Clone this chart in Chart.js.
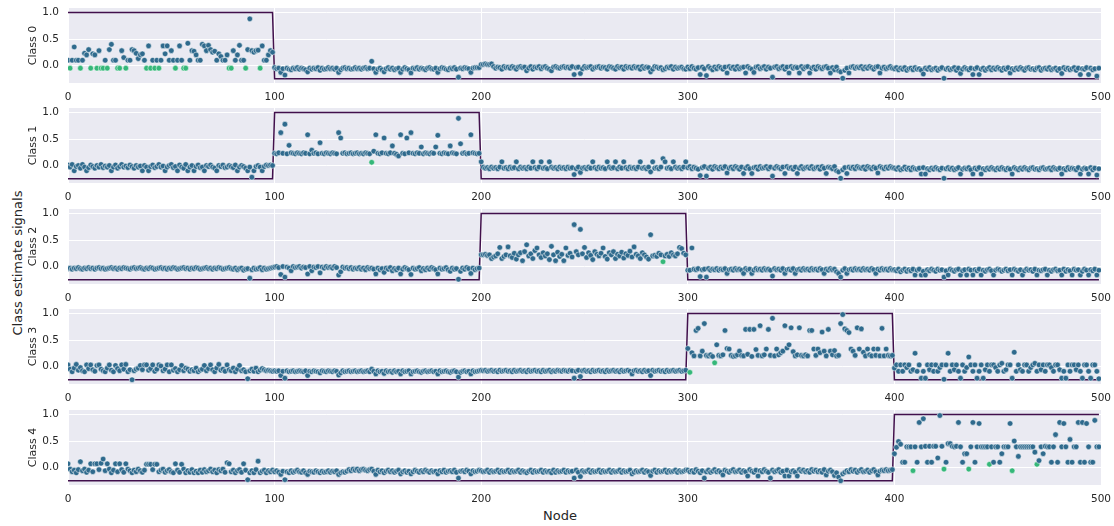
<!DOCTYPE html>
<html>
<head>
<meta charset="utf-8">
<script src="https://cdn.jsdelivr.net/npm/chart.js@4.4.1/dist/chart.umd.min.js"></script>
<style>
  body { margin: 0; background: #fff; width: 1114px; height: 526px; position: relative; overflow: hidden; font-family: "DejaVu Sans", sans-serif; }
  canvas.panel { position: absolute; left: 0; }
  .fig-label { position: absolute; color: #262626; font-size: 13px; white-space: nowrap; transform: translate(-50%, -50%); }
  #ylab { left: 17px; top: 263px; transform: translate(-50%, -50%) rotate(-90deg); }
  #xlab { left: 560px; top: 515px; }
</style>
</head>
<body>
<div class="fig-label" id="ylab">Class estimate signals</div>
<div class="fig-label" id="xlab">Node</div>
<script>
// class ranges: nodes [classBounds[k], classBounds[k+1]) belong to class k
const classBounds = [0, 100, 200, 300, 400, 500];
const classNames = ['Class 0', 'Class 1', 'Class 2', 'Class 3', 'Class 4'];
const truthHigh = 1.0;
const truthLow = -0.25;
const xTicks = [0, 100, 200, 300, 400, 500];
const yTicks = [0, 0.5, 1.0];

// estimated signal per node, one array per class
const class0 = [
  .1,-.05,.1,.35,.1,.1,-.05,.1,.23,.2,.3,-.05,.22,.2,-.05,.28,-.05,-.05,.1,-.05,
  .3,.4,.1,.1,-.05,-.05,.28,.15,-.05,.1,.1,.3,.28,.23,.13,.2,.22,.1,-.05,.37,
  -.05,.1,-.05,.1,-.05,.1,.37,.22,.37,.1,.28,.1,-.05,.1,.37,.1,-.05,-.05,.42,.1,
  .28,.27,.2,.1,.1,.4,.37,.28,.38,.3,.25,.27,.1,.22,.17,.1,.1,.2,-.05,-.05,
  .28,.1,.2,.38,.1,.1,-.05,.3,.88,.28,.25,.28,.29,-.05,.37,.1,.1,.2,.28,.25,
  -.04,-.06,-.05,-.13,-.06,-.18,-.05,-.07,-.08,-.05,-.06,-.04,-.07,-.05,-.06,-.08,-.12,-.05,-.07,-.05,
  -.06,-.04,-.09,-.05,-.07,-.06,-.04,-.06,-.05,-.07,-.05,-.13,-.08,-.05,-.04,-.06,-.05,-.07,-.06,-.04,
  -.06,-.05,-.07,-.05,-.04,-.06,-.05,.08,-.06,-.13,-.07,-.05,-.08,-.12,-.06,-.04,-.07,-.05,-.08,-.06,
  -.05,-.13,-.07,-.04,-.06,-.08,-.14,-.05,-.06,-.04,-.07,-.05,-.06,-.08,-.05,-.04,-.06,-.07,-.05,-.13,
  -.06,-.04,-.05,-.07,-.08,-.05,-.06,-.04,-.07,-.22,-.05,-.06,-.04,-.05,-.06,-.13,-.05,-.04,-.04,-.04,
  .02,.02,.03,.02,.02,.03,-.02,-.05,-.03,-.04,-.07,-.02,-.04,-.03,-.05,-.02,-.04,-.07,-.03,-.02,
  -.04,-.03,-.1,-.05,-.02,-.07,-.03,-.04,-.02,-.06,-.03,-.02,-.05,-.07,-.1,-.03,-.02,-.04,-.05,-.03,
  -.02,-.04,-.03,-.05,-.02,-.17,-.04,-.03,-.15,-.06,-.02,-.04,-.03,-.02,-.07,-.04,-.03,-.02,-.05,-.03,
  -.04,-.07,-.02,-.03,-.05,-.07,-.02,-.04,-.03,-.07,-.02,-.04,-.03,-.05,-.02,-.04,-.03,-.07,-.02,-.05,
  -.03,-.04,-.12,-.07,-.02,-.03,-.05,-.04,-.08,-.06,-.03,-.04,-.02,-.07,-.03,-.05,-.04,-.03,-.06,-.07,
  -.03,-.06,-.02,-.05,-.07,-.04,-.17,-.03,-.06,-.19,-.02,-.05,-.08,-.03,-.06,-.02,-.04,-.07,-.03,-.14,
  -.02,-.05,-.03,-.07,-.02,-.06,-.04,-.03,-.14,-.02,-.05,-.07,-.13,-.03,-.02,-.06,-.04,-.02,-.07,-.03,
  -.05,-.22,-.03,-.02,-.06,-.04,-.02,-.07,-.03,-.14,-.02,-.05,-.03,-.04,-.14,-.02,-.06,-.03,-.02,-.14,
  -.05,-.03,-.07,-.02,-.04,-.06,-.03,-.02,-.05,-.14,-.04,-.08,-.03,-.1,-.12,-.24,-.09,-.05,-.14,-.03,
  -.02,-.05,-.03,-.04,-.02,-.06,-.03,-.05,-.02,-.04,-.07,-.03,-.02,-.14,-.05,-.03,-.06,-.04,-.02,-.05,
  -.06,-.04,-.08,-.05,-.07,-.04,-.09,-.06,-.05,-.08,-.04,-.07,-.06,-.09,-.16,-.05,-.07,-.04,-.08,-.06,
  -.05,-.09,-.06,-.04,-.24,-.07,-.05,-.08,-.06,-.04,-.09,-.05,-.15,-.07,-.04,-.06,-.08,-.05,-.17,-.06,
  -.04,-.17,-.07,-.05,-.09,-.06,-.04,-.08,-.05,-.07,-.04,-.06,-.09,-.05,-.07,-.04,-.14,-.06,-.08,-.05,
  -.07,-.04,-.06,-.09,-.05,-.04,-.07,-.06,-.08,-.05,-.04,-.09,-.06,-.05,-.07,-.04,-.08,-.06,-.05,-.09,
  -.06,-.15,-.04,-.07,-.05,-.08,-.06,-.04,-.09,-.05,-.17,-.06,-.07,-.04,-.17,-.05,-.08,-.06,-.2,-.05
];

const class1 = [
  .01,-.03,.02,-.1,-.02,.0,-.05,.02,-.03,-.1,-.04,.01,-.02,-.05,.0,-.03,.02,-.04,-.01,-.03,
  .0,-.1,-.03,.01,-.05,-.02,.02,-.03,-.01,-.04,.01,-.02,-.05,.0,-.03,-.01,-.1,.0,-.03,-.1,
  -.02,.01,-.04,-.02,.02,-.03,-.01,-.1,-.03,.0,.02,-.04,-.02,-.1,.01,-.03,-.05,.02,-.1,-.03,
  .0,-.1,-.02,.01,-.04,-.03,-.1,.0,-.02,.01,-.03,-.05,-.1,.0,-.02,.01,-.04,-.03,.0,-.02,
  -.04,.01,-.1,-.03,.0,-.02,-.05,-.1,-.03,-.22,-.1,-.02,.0,-.03,-.1,-.02,.01,.0,.01,.0,
  .23,.22,.24,.62,.23,.78,.22,.38,.24,.23,.22,.24,.23,.22,.24,.23,.58,.22,.29,.23,
  .24,.22,.43,.23,.22,.24,.23,.22,.24,.23,.22,.62,.52,.23,.24,.22,.23,.24,.22,.23,
  .24,.22,.23,.22,.24,.23,.22,.06,.27,.58,.23,.22,.24,.52,.23,.22,.24,.37,.23,.21,
  .18,.58,.23,.22,.52,.24,.62,.23,.22,.24,.23,.35,.22,.24,.23,.22,.24,.23,.35,.57,
  .23,.22,.24,.23,.22,.37,.24,.23,.22,.89,.41,.23,.24,.22,.23,.58,.24,.23,.22,.23,
  .07,-.03,-.05,-.04,-.06,-.03,-.05,-.04,-.06,-.03,.07,-.05,-.04,-.06,-.03,-.05,-.04,.07,-.06,-.03,
  -.05,-.04,-.06,-.03,-.05,.07,-.04,-.06,-.03,.07,-.05,-.04,-.06,.07,-.03,-.05,-.04,-.06,-.03,-.05,
  -.04,-.06,-.03,-.05,-.04,-.17,-.06,-.03,-.13,-.05,-.04,-.06,-.03,-.05,.07,-.04,-.06,-.03,-.05,-.04,
  -.06,.07,-.03,-.05,-.04,.07,-.06,-.03,-.05,.07,-.04,-.06,-.03,-.05,-.04,-.06,-.03,.07,-.05,-.04,
  -.06,-.03,-.12,.07,-.05,-.04,-.06,-.03,.13,.07,-.05,-.04,-.06,.07,-.03,-.05,-.04,-.06,-.03,.07,
  -.04,-.02,-.06,-.03,-.05,-.07,-.19,-.04,-.02,-.2,-.05,-.03,-.07,-.02,-.04,-.06,-.03,-.05,-.02,-.14,
  -.05,-.03,-.06,-.02,-.04,-.07,-.03,-.15,-.05,-.02,-.06,-.15,-.04,-.03,-.07,-.02,-.05,-.04,-.02,-.06,
  -.03,-.2,-.05,-.02,-.04,-.06,-.03,-.15,-.02,-.05,-.04,-.07,-.03,-.15,-.05,-.02,-.06,-.04,-.03,-.05,
  -.02,-.06,-.04,-.03,-.07,-.02,-.05,-.15,-.03,-.04,-.06,-.02,-.1,-.12,-.24,-.08,-.04,-.15,-.03,-.05,
  -.03,-.06,-.02,-.04,-.05,-.03,-.07,-.02,-.04,-.06,-.03,-.05,-.14,-.02,-.04,-.06,-.03,-.05,-.02,-.04,
  -.05,-.07,-.04,-.08,-.06,-.03,-.07,-.05,-.08,-.04,-.06,-.07,-.05,-.16,-.04,-.16,-.06,-.08,-.05,-.07,
  -.04,-.06,-.08,-.05,-.24,-.06,-.04,-.07,-.05,-.08,-.06,-.04,-.16,-.07,-.05,-.06,-.04,-.08,-.16,-.05,
  -.07,-.04,-.16,-.06,-.08,-.05,-.07,-.04,-.06,-.08,-.05,-.07,-.04,-.06,-.08,-.05,-.07,-.16,-.04,-.06,
  -.08,-.05,-.07,-.04,-.06,-.08,-.05,-.04,-.07,-.06,-.08,-.05,-.04,-.07,-.06,-.05,-.08,-.04,-.06,-.07,
  -.05,-.16,-.06,-.08,-.04,-.07,-.05,-.06,-.08,-.04,-.16,-.07,-.05,-.06,-.16,-.04,-.08,-.05,-.18,-.06
];

const class2 = [
  -.04,-.03,-.05,-.03,-.04,-.02,-.04,-.05,-.03,-.04,-.02,-.04,-.03,-.05,-.03,-.02,-.04,-.03,-.05,-.04,
  -.03,-.02,-.04,-.03,-.05,-.03,-.04,-.02,-.03,-.04,-.05,-.03,-.02,-.04,-.03,-.02,-.04,-.05,-.03,-.04,
  -.02,-.03,-.05,-.04,-.03,-.02,-.04,-.03,-.05,-.03,-.04,-.02,-.03,-.05,-.04,-.03,-.02,-.04,-.03,-.05,
  -.03,-.04,-.02,-.03,-.05,-.04,-.03,-.02,-.04,-.03,-.05,-.03,-.04,-.02,-.03,-.05,-.04,-.03,-.02,-.04,
  -.05,-.03,-.06,-.04,-.03,-.07,-.05,-.04,-.22,-.06,-.03,-.05,-.04,-.02,-.06,-.03,-.05,-.04,-.03,-.02,
  -.01,.0,-.02,-.15,.0,-.2,-.01,-.03,-.08,.0,-.02,-.01,.0,-.03,-.01,-.02,-.14,.0,-.08,-.01,
  -.02,.0,-.12,-.01,-.03,.0,-.02,-.01,-.03,.0,-.02,-.16,-.1,-.01,-.03,-.02,-.04,-.02,-.05,-.03,
  -.04,-.02,-.05,-.03,-.06,-.02,-.04,-.03,-.05,-.14,-.03,-.06,-.04,-.11,-.03,-.05,-.02,-.08,-.04,-.06,
  -.03,-.14,-.05,-.02,-.04,-.06,-.15,-.03,-.05,-.04,-.02,-.08,-.04,-.06,-.03,-.05,-.02,-.04,-.06,-.14,
  -.03,-.05,-.04,-.02,-.06,-.09,-.03,-.05,-.04,-.24,-.09,-.03,-.05,-.02,-.04,-.13,-.03,-.06,-.04,-.03,
  .22,.22,.23,.21,.22,.15,.18,.2,.24,.36,.15,.19,.22,.37,.2,.17,.25,.14,.22,.26,
  .11,.28,.41,.2,.24,.15,.3,.35,.22,.17,.26,.2,.24,.13,.38,.22,.11,.27,.19,.23,
  .11,.35,.21,.25,.18,.79,.28,.22,.7,.24,.36,.17,.26,.21,.13,.28,.23,.2,.25,.35,
  .19,.14,.26,.22,.28,.15,.23,.2,.27,.16,.24,.21,.29,.18,.37,.23,.2,.15,.26,.22,
  .18,.14,.6,.2,.21,.19,.25,.22,.09,.2,.23,.19,.26,.22,.2,.24,.36,.34,.25,.22,
  -.07,-.07,.35,-.05,-.06,-.04,-.19,-.06,-.05,-.2,-.04,-.07,-.05,-.06,-.04,-.07,-.05,-.06,-.04,-.13,
  -.06,-.05,-.07,-.04,-.06,-.05,-.07,-.13,-.04,-.06,-.05,-.13,-.07,-.04,-.06,-.05,-.07,-.04,-.06,-.05,
  -.07,-.18,-.04,-.06,-.05,-.07,-.04,-.13,-.06,-.05,-.07,-.04,-.13,-.06,-.05,-.07,-.04,-.06,-.05,-.07,
  -.04,-.06,-.05,-.07,-.04,-.06,-.13,-.05,-.07,-.04,-.06,-.05,-.1,-.13,-.2,-.07,-.04,-.13,-.06,-.05,
  -.07,-.04,-.06,-.05,-.07,-.04,-.06,-.05,-.07,-.04,-.06,-.13,-.05,-.07,-.04,-.06,-.05,-.07,-.04,-.06,
  -.06,-.08,-.05,-.1,-.07,-.05,-.09,-.06,-.08,-.05,-.16,-.07,-.05,-.16,-.09,-.16,-.06,-.08,-.05,-.07,
  -.09,-.05,-.07,-.06,-.2,-.08,-.16,-.05,-.07,-.09,-.06,-.05,-.16,-.08,-.06,-.16,-.05,-.07,-.16,-.06,
  -.08,-.05,-.16,-.07,-.09,-.06,-.05,-.08,-.16,-.07,-.05,-.06,-.09,-.07,-.05,-.08,-.06,-.16,-.05,-.07,
  -.09,-.06,-.16,-.08,-.05,-.07,-.06,-.09,-.05,-.16,-.07,-.08,-.06,-.05,-.16,-.07,-.09,-.06,-.05,-.08,
  -.07,-.16,-.05,-.09,-.06,-.08,-.16,-.05,-.07,-.06,-.16,-.09,-.05,-.07,-.16,-.06,-.08,-.05,-.16,-.07
];

const class3 = [
  .03,-.05,-.1,-.03,.04,-.07,-.02,-.08,-.1,.03,-.04,.03,-.06,-.09,.02,.03,-.05,-.08,-.1,-.03,
  .03,-.07,-.1,.02,-.04,-.08,.03,-.05,.04,-.1,-.06,-.25,-.08,-.05,-.03,.02,-.06,.03,.03,-.07,
  -.04,.03,-.09,-.05,.03,.01,-.08,-.05,.03,-.1,.03,-.07,-.04,-.1,-.06,.02,-.08,-.03,-.05,-.09,
  -.06,-.08,-.03,-.1,-.07,-.05,.02,-.08,-.04,.03,-.06,-.1,-.03,.04,-.07,-.05,-.09,.03,-.06,-.08,
  -.03,-.1,-.05,.02,-.08,-.06,-.1,-.23,-.08,-.05,-.09,-.03,-.1,-.07,-.04,-.06,-.08,-.07,-.08,-.09,
  -.08,-.09,-.08,-.17,-.09,-.22,-.08,-.1,-.09,-.08,-.1,-.09,-.08,-.09,-.1,-.08,-.17,-.09,-.1,-.08,
  -.09,-.1,-.12,-.08,-.09,-.1,-.08,-.09,-.1,-.08,-.09,-.16,-.12,-.08,-.1,-.09,-.08,-.1,-.09,-.08,
  -.1,-.09,-.08,-.1,-.09,-.08,-.1,-.05,-.09,-.14,-.08,-.1,-.09,-.13,-.08,-.1,-.09,-.11,-.08,-.1,
  -.09,-.14,-.08,-.1,-.09,-.08,-.14,-.1,-.09,-.08,-.1,-.11,-.09,-.08,-.1,-.09,-.08,-.1,-.09,-.14,
  -.08,-.1,-.09,-.08,-.1,-.11,-.09,-.08,-.1,-.2,-.11,-.09,-.08,-.1,-.09,-.14,-.08,-.1,-.09,-.08,
  -.07,-.08,-.07,-.09,-.08,-.07,-.09,-.08,-.1,-.07,-.09,-.08,-.07,-.09,-.08,-.1,-.07,-.09,-.08,-.07,
  -.09,-.08,-.1,-.07,-.09,-.08,-.07,-.09,-.08,-.1,-.07,-.09,-.08,-.07,-.1,-.08,-.09,-.07,-.08,-.09,
  -.07,-.08,-.09,-.07,-.08,-.22,-.09,-.07,-.19,-.08,-.07,-.09,-.08,-.1,-.07,-.09,-.08,-.07,-.09,-.08,
  -.1,-.07,-.09,-.08,-.07,-.09,-.08,-.1,-.07,-.09,-.08,-.07,-.09,-.14,-.08,-.07,-.09,-.08,-.1,-.07,
  -.09,-.08,-.17,-.07,-.09,-.08,-.07,-.09,-.08,-.1,-.07,-.09,-.08,-.07,-.09,-.08,-.07,-.09,-.08,-.07,
  .34,-.11,.26,.2,.68,.72,.2,.29,.81,.21,.2,.22,.19,.07,.41,.21,.2,.22,.68,.34,
  .33,.21,.19,.2,.22,.29,.21,.2,.7,.23,.7,.19,.7,.32,.21,.77,.2,.22,.33,.7,
  .21,.91,.2,.33,.22,.26,.29,.77,.35,.41,.73,.28,.2,.22,.73,.21,.2,.22,.2,.68,
  .68,.33,.21,.33,.26,.65,.29,.2,.7,.29,.22,.3,.2,.21,.81,.98,.71,.68,.64,.33,
  .29,.21,.73,.33,.71,.27,.2,.33,.22,.2,.33,.21,.33,.2,.72,.2,.33,.21,.2,.21,
  -.03,.03,-.09,.03,-.09,.03,-.02,.03,-.09,-.06,.25,-.09,.03,-.22,-.09,-.22,.03,-.06,.03,-.09,
  .03,-.09,-.02,.03,-.24,.03,.25,-.09,.03,-.06,.03,-.09,-.22,.03,-.09,-.02,.18,.03,-.09,.03,
  -.22,-.09,.03,-.22,-.06,.03,-.09,.03,.03,-.02,-.09,.03,.06,-.09,-.06,.03,.03,-.22,.27,-.09,
  .03,-.06,-.09,.03,.03,-.09,-.02,.03,.06,-.09,.03,-.06,.03,-.09,.03,.03,-.02,-.09,.03,.03,
  -.06,-.22,-.09,-.22,.03,-.09,.03,.03,-.06,.03,-.09,-.22,.03,.03,-.09,-.22,.03,.03,-.09,-.23
];

const class4 = [
  .07,-.03,-.08,-.05,-.1,-.04,.11,-.06,-.03,-.09,-.05,.07,-.08,.07,.07,-.04,.08,.16,-.06,.07,
  -.03,-.1,-.05,.07,-.08,.07,-.04,-.09,.07,-.03,-.06,-.1,-.05,-.08,-.03,-.06,-.09,-.05,.06,.06,
  .06,-.04,.06,.06,-.08,-.05,-.03,-.09,-.06,-.04,-.08,-.1,.07,-.05,-.09,.06,-.03,-.1,-.06,-.09,
  -.04,-.1,-.07,-.1,-.05,-.09,-.04,-.08,-.06,-.03,-.08,-.05,-.1,-.04,-.06,-.03,-.09,.09,.07,-.08,
  -.05,-.1,-.06,-.04,-.09,.07,-.05,-.23,-.1,-.06,-.1,-.04,.12,-.1,-.07,-.05,-.1,-.06,-.08,-.05,
  -.08,-.06,-.09,-.13,-.07,-.23,-.08,-.1,-.06,-.09,-.07,-.05,-.08,-.09,-.06,-.1,-.13,-.07,-.08,-.09,
  -.06,-.08,-.1,-.07,-.09,-.08,-.06,-.09,-.07,-.08,-.06,-.13,-.1,-.08,-.09,-.07,-.04,-.06,-.03,-.05,
  -.03,-.06,-.04,-.03,-.05,-.06,-.04,-.03,-.07,-.13,-.05,-.08,-.06,-.1,-.07,-.05,-.08,-.06,-.09,-.07,
  -.05,-.12,-.08,-.06,-.09,-.07,-.12,-.08,-.05,-.07,-.09,-.06,-.08,-.05,-.07,-.09,-.06,-.08,-.07,-.12,
  -.06,-.08,-.05,-.09,-.07,-.06,-.08,-.05,-.09,-.2,-.07,-.06,-.08,-.05,-.07,-.12,-.06,-.08,-.07,-.05,
  -.06,-.08,-.07,-.05,-.09,-.06,-.08,-.07,-.05,-.09,-.06,-.08,-.07,-.05,-.09,-.06,-.08,-.07,-.05,-.09,
  -.06,-.08,-.1,-.07,-.05,-.09,-.06,-.08,-.07,-.05,-.09,-.06,-.08,-.07,-.1,-.05,-.09,-.06,-.08,-.07,
  -.05,-.09,-.06,-.08,-.07,-.2,-.05,-.09,-.17,-.06,-.08,-.07,-.05,-.09,-.06,-.08,-.07,-.05,-.09,-.06,
  -.08,-.07,-.05,-.09,-.06,-.08,-.07,-.05,-.09,-.06,-.08,-.07,-.05,-.12,-.09,-.06,-.08,-.07,-.05,-.09,
  -.06,-.08,-.15,-.07,-.05,-.09,-.06,-.08,-.07,-.05,-.09,-.06,-.08,-.07,-.05,-.09,-.06,-.08,-.07,-.05,
  -.05,-.08,-.06,-.09,-.04,-.07,-.1,-.06,-.2,-.08,-.05,-.09,-.07,-.04,-.08,-.06,-.09,-.14,-.05,-.07,
  -.09,-.06,-.04,-.08,-.07,-.05,-.09,-.06,-.08,-.16,-.04,-.07,-.09,-.05,-.16,-.06,-.08,-.04,-.07,-.09,
  -.2,-.05,-.08,-.06,-.04,-.09,-.07,-.16,-.05,-.16,-.08,-.06,-.09,-.16,-.04,-.07,-.05,-.08,-.06,-.09,
  -.04,-.07,-.05,-.08,-.06,-.09,-.04,-.14,-.07,-.05,-.08,-.15,-.1,-.18,-.25,-.12,-.09,-.06,-.08,-.04,
  -.07,-.05,-.09,-.06,-.04,-.08,-.07,-.05,-.09,-.06,-.04,-.08,-.14,-.07,-.05,-.06,-.04,-.06,-.05,-.04,
  .26,.38,.49,.44,.1,.1,.39,.39,.39,-.06,.39,.1,.85,.39,.92,.4,.1,.4,.1,.4,
  .4,.18,.98,.4,-.03,.1,.45,.45,.4,.39,.4,.85,.39,.1,.26,.26,-.03,.39,.85,.1,
  .39,.83,.39,.39,.39,.39,.06,.39,.1,.39,.39,.1,.26,.39,.39,.39,.83,-.06,.5,.39,
  .21,.39,.39,.39,.39,.39,.39,.39,.29,.06,.13,.39,.26,.4,.39,.39,.1,.39,.62,.1,
  .85,.39,.83,.39,.1,.53,.1,.39,.39,.85,.1,.85,.1,.83,.39,.1,.1,.89,.39,.39
];

// nodes drawn in the second hue
const flagged0 = [1, 6, 11, 14, 16, 17, 19, 24, 25, 28, 38, 40, 42, 44, 52, 56, 57, 78, 79, 86, 93];
const flagged1 = [147];
const flagged2 = [288];
const flagged3 = [301, 313];
const flagged4 = [409, 424, 436, 446, 457, 469];

const seriesList = [class0, class1, class2, class3, class4];
const flaggedList = [flagged0, flagged1, flagged2, flagged3, flagged4];

const dotColor = '#2f6a8d';
const flagColor = '#35b779';
const truthColor = '#41104c';
const textColor = '#262626';

Chart.defaults.font.family = '"DejaVu Sans", sans-serif';
Chart.defaults.color = textColor;

const panelBackground = {
  id: 'panelBackground',
  beforeDraw(chart) {
    const { ctx, chartArea: a } = chart;
    ctx.save();
    ctx.fillStyle = '#eaeaf2';
    ctx.fillRect(a.left, a.top, a.right - a.left, a.bottom - a.top);
    ctx.restore();
  }
};

seriesList.forEach((values, k) => {
  const canvas = document.createElement('canvas');
  canvas.className = 'panel';
  canvas.width = 1114;
  canvas.height = 110;
  canvas.style.top = Math.round(100.4 * k) + 'px';
  document.body.appendChild(canvas);

  const lo = classBounds[k];
  const hi = classBounds[k + 1];
  const flagged = flaggedList[k];

  new Chart(canvas.getContext('2d'), {
    type: 'scatter',
    data: {
      datasets: [
        {
          data: values.map((v, i) => ({ x: i, y: v })),
          pointRadius: 2.8,
          pointBorderWidth: 0.5,
          pointBorderColor: '#ffffff',
          pointBackgroundColor: values.map((v, i) => flagged.includes(i) ? flagColor : dotColor),
          order: 0
        },
        {
          data: values.map((v, i) => ({ x: i, y: (i >= lo && i < hi) ? truthHigh : truthLow })),
          showLine: true,
          borderColor: truthColor,
          borderWidth: 1.5,
          pointRadius: 0,
          fill: false,
          order: 1
        }
      ]
    },
    options: {
      responsive: false,
      animation: false,
      events: [],
      layout: { padding: { top: 8, right: 13, bottom: 0, left: 0 } },
      plugins: { legend: { display: false }, tooltip: { enabled: false } },
      scales: {
        x: {
          type: 'linear',
          min: 0,
          max: 500,
          afterBuildTicks: s => { s.ticks = xTicks.map(v => ({ value: v })); },
          afterFit: s => { s.height = 27; s.paddingLeft = 0; s.paddingRight = 0; },
          ticks: { padding: 8, maxRotation: 0, color: textColor, font: { size: 10.5 } },
          grid: { color: '#ffffff', lineWidth: 1, drawTicks: false },
          border: { display: false }
        },
        y: {
          min: -0.33,
          max: 1.085,
          afterBuildTicks: s => { s.ticks = yTicks.map(v => ({ value: v })); },
          afterFit: s => { s.width = 68; s.paddingTop = 0; s.paddingBottom = 0; },
          ticks: { padding: 9, color: textColor, font: { size: 10.5 }, callback: v => v.toFixed(1) },
          grid: { color: '#ffffff', lineWidth: 1, drawTicks: false },
          border: { display: false },
          title: { display: true, text: classNames[k], color: textColor, font: { size: 11 }, padding: { top: 27, bottom: 0 } }
        }
      }
    },
    plugins: [panelBackground]
  });
});
</script>
</body>
</html>
